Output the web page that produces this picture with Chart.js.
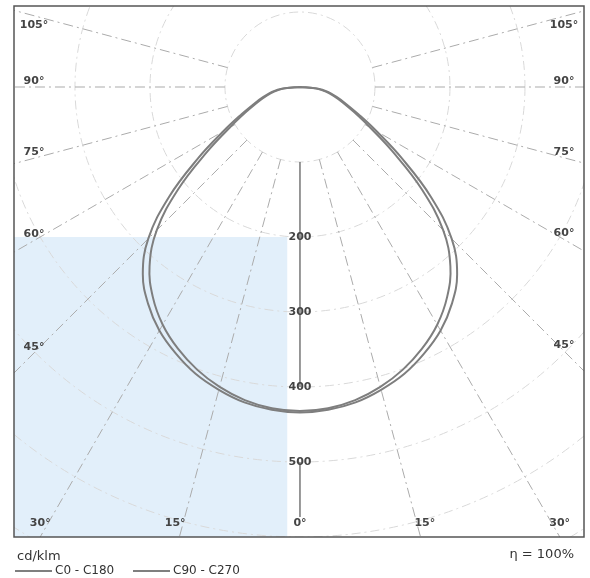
<!DOCTYPE html>
<html>
<head>
<meta charset="utf-8">
<script src="https://cdn.jsdelivr.net/npm/chart.js@4/dist/chart.umd.min.js"></script>
<style>
html,body{margin:0;padding:0;background:#fff;}
#wrap{width:590px;height:578px;position:relative;}
</style>
</head>
<body>
<div id="wrap"><canvas id="c" width="590" height="578"></canvas></div>
<script>
// ---- data ----
const gammaDeg = [0, 5, 10, 15, 20, 25, 30, 35, 40, 45, 50, 55, 60, 65, 70, 75, 80, 85, 90];
const intensityC0C180 = [432, 430, 424, 414, 401, 385, 366, 342, 312, 270, 212, 152, 108, 80, 61, 47, 35, 21, 0];
const intensityC90C270 = [434, 432, 427, 418, 407, 392, 375, 353, 326, 286, 228, 166, 118, 86, 65, 50, 38, 23, 0];
const seriesNames = ['C0 - C180', 'C90 - C270'];
const radialCircles = [100, 200, 300, 400, 500, 600, 700];
const radialTickValues = [200, 300, 400, 500];
const angleTicks = [0, 15, 30, 45, 60, 75, 90, 105];
const unitLabel = 'cd/klm';
const efficiencyLabel = '\u03B7 = 100%';

// polar (gamma from nadir, intensity) -> cartesian in cd/klm units
function polarCurve(values) {
  const pts = [];
  for (let i = gammaDeg.length - 1; i >= 0; i--) {
    const g = gammaDeg[i] * Math.PI / 180;
    pts.push({x: -values[i] * Math.sin(g), y: -values[i] * Math.cos(g)});
  }
  for (let i = 1; i < gammaDeg.length; i++) {
    const g = gammaDeg[i] * Math.PI / 180;
    pts.push({x: values[i] * Math.sin(g), y: -values[i] * Math.cos(g)});
  }
  return pts;
}

const FONT = '"DejaVu Sans", Verdana, sans-serif';

const polarGrid = {
  id: 'polarGrid',
  beforeDatasetsDraw(chart) {
    const {ctx, chartArea: a, scales: {x, y}} = chart;
    const cx = x.getPixelForValue(0), cy = y.getPixelForValue(0);
    const k = x.getPixelForValue(100) - cx; // px per 100 cd/klm
    ctx.save();
    ctx.beginPath();
    ctx.rect(a.left, a.top, a.right - a.left, a.bottom - a.top);
    ctx.clip();
    // scan tint (light blue sheet in lower left)
    ctx.fillStyle = 'rgba(214,232,248,0.7)';
    const tx1 = a.left, tx2 = x.getPixelForValue(-17), ty1 = y.getPixelForValue(-200), ty2 = a.bottom;
    ctx.fillRect(tx1, ty1, tx2 - tx1, ty2 - ty1);
    // circles
    ctx.strokeStyle = '#d9d9d9';
    ctx.lineWidth = 1;
    ctx.setLineDash([9, 4, 2, 4]);
    radialCircles.forEach(r => {
      ctx.beginPath();
      ctx.arc(cx, cy, r / 100 * k, 0, Math.PI * 2);
      ctx.stroke();
    });
    // radial lines
    ctx.strokeStyle = '#ababab';
    ctx.setLineDash([10, 4, 2, 4]);
    angleTicks.forEach(ag => {
      if (ag === 0) return;
      [-1, 1].forEach(s => {
        const g = ag * Math.PI / 180;
        const dx = s * Math.sin(g), dy = Math.cos(g);
        const r0 = k, r1 = 1000;
        ctx.beginPath();
        ctx.moveTo(cx + dx * r0, cy + dy * r0);
        ctx.lineTo(cx + dx * r1, cy + dy * r1);
        ctx.stroke();
      });
    });
    // nadir axis
    ctx.setLineDash([]);
    ctx.strokeStyle = '#555';
    ctx.lineWidth = 1.2;
    ctx.beginPath();
    ctx.moveTo(cx, y.getPixelForValue(-100));
    ctx.lineTo(cx, y.getPixelForValue(-400));
    ctx.moveTo(cx, y.getPixelForValue(-500));
    ctx.lineTo(cx, a.bottom - 20);
    ctx.stroke();
    // radial tick labels
    ctx.font = 'bold 11px ' + FONT;
    ctx.fillStyle = '#444';
    ctx.textAlign = 'center';
    ctx.textBaseline = 'middle';
    radialTickValues.forEach(v => {
      ctx.fillText(String(v), cx, y.getPixelForValue(-v));
    });
    // angle labels
    const inL = a.left + 20, inR = a.right - 20, inB = a.bottom - 14, inT = a.top + 19;
    angleTicks.forEach(ag => {
      const sides = ag === 0 ? [0] : [-1, 1];
      sides.forEach(s => {
        const g = ag * Math.PI / 180;
        const dx = (s === 0 ? 0 : s) * Math.sin(g), dy = Math.cos(g);
        let tx, ty;
        let tSide = Infinity, tBot = Infinity;
        if (dx !== 0) tSide = ((dx < 0 ? cx - inL : inR - cx)) / Math.abs(dx);
        if (dy > 0) tBot = (inB - cy) / dy;
        if (tSide < tBot) {
          tx = cx + dx * tSide; ty = cy + dy * tSide - 6;
          if (ty < inT) ty = inT;
        } else {
          tx = cx + dx * tBot + s * 8; ty = inB;
        }
        ctx.fillText(ag + '\u00B0', tx, ty);
      });
    });
    ctx.restore();
  },
  afterDraw(chart) {
    const {ctx, chartArea: a} = chart;
    ctx.save();
    ctx.strokeStyle = '#555';
    ctx.lineWidth = 1.5;
    ctx.strokeRect(a.left, a.top, a.right - a.left, a.bottom - a.top);
    // unit + legend
    ctx.fillStyle = '#333';
    ctx.textBaseline = 'middle';
    ctx.textAlign = 'left';
    ctx.font = '13px ' + FONT;
    ctx.fillText(unitLabel, a.left + 3, a.bottom + 20);
    ctx.font = '12px ' + FONT;
    const ly = a.bottom + 34;
    const items = chart.data.datasets;
    let lx = a.left + 1;
    items.forEach((ds, i) => {
      ctx.strokeStyle = '#555';
      ctx.lineWidth = 1.5;
      ctx.beginPath();
      ctx.moveTo(lx, ly);
      ctx.lineTo(lx + 37, ly);
      ctx.stroke();
      ctx.fillText(ds.label, lx + 40, ly);
      lx += 118;
    });
    ctx.font = '13px ' + FONT;
    ctx.textAlign = 'right';
    ctx.fillText(efficiencyLabel, a.right - 10, a.bottom + 18);
    ctx.restore();
  }
};

new Chart(document.getElementById('c').getContext('2d'), {
  type: 'scatter',
  data: {
    datasets: [
      {label: seriesNames[0], data: polarCurve(intensityC0C180), showLine: true, borderColor: '#7e7e7e', borderWidth: 2, pointRadius: 0, tension: 0.4, fill: false},
      {label: seriesNames[1], data: polarCurve(intensityC90C270), showLine: true, borderColor: '#7e7e7e', borderWidth: 2, pointRadius: 0, tension: 0.4, fill: false}
    ]
  },
  options: {
    responsive: false,
    animation: false,
    devicePixelRatio: 1,
    layout: {padding: {left: 14, top: 6, right: 6, bottom: 41}},
    scales: {
      x: {type: 'linear', min: -381.3, max: 378.7, display: false},
      y: {type: 'linear', min: -600, max: 108, display: false}
    },
    plugins: {legend: {display: false}, tooltip: {enabled: false}}
  },
  plugins: [polarGrid]
});
</script>
</body>
</html>
